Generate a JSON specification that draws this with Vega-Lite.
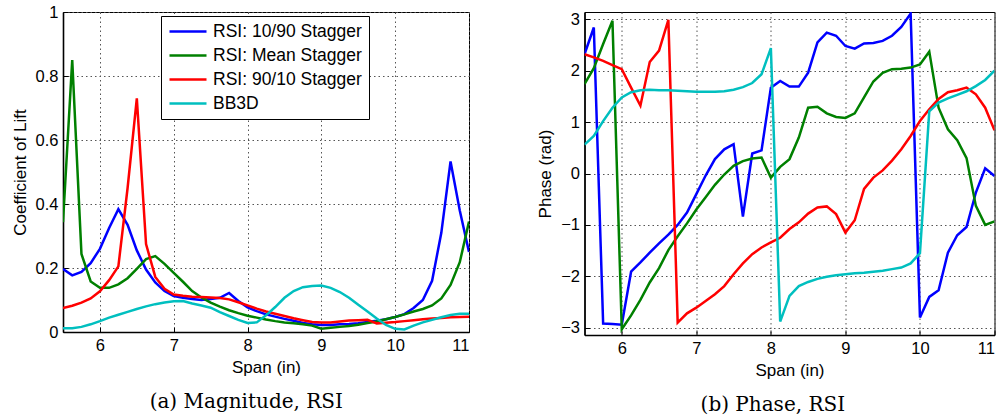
{
"$schema": "https://vega.github.io/schema/vega-lite/v6.json",
"padding": {"left": 10, "top": 3, "right": 0, "bottom": 2},
"background": "white",
"datasets": {"d": [
{"series":"RSI: 10/90 Stagger","span":5.5,"cl":0.197,"phase":2.32},
{"series":"RSI: 10/90 Stagger","span":5.625,"cl":0.177,"phase":2.84},
{"series":"RSI: 10/90 Stagger","span":5.75,"cl":0.188,"phase":-2.92},
{"series":"RSI: 10/90 Stagger","span":5.875,"cl":0.215,"phase":-2.93},
{"series":"RSI: 10/90 Stagger","span":6.0,"cl":0.26,"phase":-2.94},
{"series":"RSI: 10/90 Stagger","span":6.125,"cl":0.325,"phase":-1.91},
{"series":"RSI: 10/90 Stagger","span":6.25,"cl":0.384,"phase":-1.73},
{"series":"RSI: 10/90 Stagger","span":6.375,"cl":0.335,"phase":-1.54},
{"series":"RSI: 10/90 Stagger","span":6.5,"cl":0.255,"phase":-1.36},
{"series":"RSI: 10/90 Stagger","span":6.625,"cl":0.195,"phase":-1.19},
{"series":"RSI: 10/90 Stagger","span":6.75,"cl":0.155,"phase":-1.0},
{"series":"RSI: 10/90 Stagger","span":6.875,"cl":0.128,"phase":-0.76},
{"series":"RSI: 10/90 Stagger","span":7.0,"cl":0.112,"phase":-0.40},
{"series":"RSI: 10/90 Stagger","span":7.125,"cl":0.107,"phase":-0.04},
{"series":"RSI: 10/90 Stagger","span":7.25,"cl":0.103,"phase":0.28},
{"series":"RSI: 10/90 Stagger","span":7.375,"cl":0.1,"phase":0.47},
{"series":"RSI: 10/90 Stagger","span":7.5,"cl":0.103,"phase":0.57},
{"series":"RSI: 10/90 Stagger","span":7.625,"cl":0.107,"phase":-0.84},
{"series":"RSI: 10/90 Stagger","span":7.75,"cl":0.122,"phase":0.39},
{"series":"RSI: 10/90 Stagger","span":7.875,"cl":0.097,"phase":0.45},
{"series":"RSI: 10/90 Stagger","span":8.0,"cl":0.077,"phase":1.67},
{"series":"RSI: 10/90 Stagger","span":8.125,"cl":0.065,"phase":1.80},
{"series":"RSI: 10/90 Stagger","span":8.25,"cl":0.055,"phase":1.69},
{"series":"RSI: 10/90 Stagger","span":8.375,"cl":0.048,"phase":1.69},
{"series":"RSI: 10/90 Stagger","span":8.5,"cl":0.041,"phase":1.96},
{"series":"RSI: 10/90 Stagger","span":8.625,"cl":0.035,"phase":2.55},
{"series":"RSI: 10/90 Stagger","span":8.75,"cl":0.028,"phase":2.74},
{"series":"RSI: 10/90 Stagger","span":8.875,"cl":0.024,"phase":2.68},
{"series":"RSI: 10/90 Stagger","span":9.0,"cl":0.022,"phase":2.48},
{"series":"RSI: 10/90 Stagger","span":9.125,"cl":0.022,"phase":2.43},
{"series":"RSI: 10/90 Stagger","span":9.25,"cl":0.024,"phase":2.53},
{"series":"RSI: 10/90 Stagger","span":9.375,"cl":0.025,"phase":2.54},
{"series":"RSI: 10/90 Stagger","span":9.5,"cl":0.027,"phase":2.58},
{"series":"RSI: 10/90 Stagger","span":9.625,"cl":0.031,"phase":2.68},
{"series":"RSI: 10/90 Stagger","span":9.75,"cl":0.035,"phase":2.85},
{"series":"RSI: 10/90 Stagger","span":9.875,"cl":0.04,"phase":3.11},
{"series":"RSI: 10/90 Stagger","span":10.0,"cl":0.047,"phase":-2.80},
{"series":"RSI: 10/90 Stagger","span":10.125,"cl":0.056,"phase":-2.40},
{"series":"RSI: 10/90 Stagger","span":10.25,"cl":0.075,"phase":-2.27},
{"series":"RSI: 10/90 Stagger","span":10.375,"cl":0.1,"phase":-1.54},
{"series":"RSI: 10/90 Stagger","span":10.5,"cl":0.16,"phase":-1.2},
{"series":"RSI: 10/90 Stagger","span":10.625,"cl":0.31,"phase":-1.04},
{"series":"RSI: 10/90 Stagger","span":10.75,"cl":0.533,"phase":-0.37},
{"series":"RSI: 10/90 Stagger","span":10.875,"cl":0.38,"phase":0.10},
{"series":"RSI: 10/90 Stagger","span":11.0,"cl":0.25,"phase":-0.05},
{"series":"RSI: Mean Stagger","span":5.5,"cl":0.343,"phase":1.74},
{"series":"RSI: Mean Stagger","span":5.625,"cl":0.85,"phase":2.05},
{"series":"RSI: Mean Stagger","span":5.75,"cl":0.244,"phase":2.52},
{"series":"RSI: Mean Stagger","span":5.875,"cl":0.158,"phase":2.97},
{"series":"RSI: Mean Stagger","span":6.0,"cl":0.138,"phase":-3.03},
{"series":"RSI: Mean Stagger","span":6.125,"cl":0.138,"phase":-2.76},
{"series":"RSI: Mean Stagger","span":6.25,"cl":0.149,"phase":-2.46},
{"series":"RSI: Mean Stagger","span":6.375,"cl":0.168,"phase":-2.12},
{"series":"RSI: Mean Stagger","span":6.5,"cl":0.197,"phase":-1.84},
{"series":"RSI: Mean Stagger","span":6.625,"cl":0.228,"phase":-1.49},
{"series":"RSI: Mean Stagger","span":6.75,"cl":0.237,"phase":-1.22},
{"series":"RSI: Mean Stagger","span":6.875,"cl":0.213,"phase":-0.97},
{"series":"RSI: Mean Stagger","span":7.0,"cl":0.185,"phase":-0.70},
{"series":"RSI: Mean Stagger","span":7.125,"cl":0.157,"phase":-0.46},
{"series":"RSI: Mean Stagger","span":7.25,"cl":0.128,"phase":-0.22},
{"series":"RSI: Mean Stagger","span":7.375,"cl":0.108,"phase":-0.02},
{"series":"RSI: Mean Stagger","span":7.5,"cl":0.092,"phase":0.15},
{"series":"RSI: Mean Stagger","span":7.625,"cl":0.079,"phase":0.24},
{"series":"RSI: Mean Stagger","span":7.75,"cl":0.068,"phase":0.29},
{"series":"RSI: Mean Stagger","span":7.875,"cl":0.059,"phase":0.31},
{"series":"RSI: Mean Stagger","span":8.0,"cl":0.051,"phase":-0.08},
{"series":"RSI: Mean Stagger","span":8.125,"cl":0.045,"phase":0.13},
{"series":"RSI: Mean Stagger","span":8.25,"cl":0.039,"phase":0.28},
{"series":"RSI: Mean Stagger","span":8.375,"cl":0.034,"phase":0.70},
{"series":"RSI: Mean Stagger","span":8.5,"cl":0.03,"phase":1.28},
{"series":"RSI: Mean Stagger","span":8.625,"cl":0.027,"phase":1.30},
{"series":"RSI: Mean Stagger","span":8.75,"cl":0.024,"phase":1.17},
{"series":"RSI: Mean Stagger","span":8.875,"cl":0.02,"phase":1.10},
{"series":"RSI: Mean Stagger","span":9.0,"cl":0.01,"phase":1.08},
{"series":"RSI: Mean Stagger","span":9.125,"cl":0.013,"phase":1.17},
{"series":"RSI: Mean Stagger","span":9.25,"cl":0.016,"phase":1.48},
{"series":"RSI: Mean Stagger","span":9.375,"cl":0.019,"phase":1.79},
{"series":"RSI: Mean Stagger","span":9.5,"cl":0.023,"phase":1.96},
{"series":"RSI: Mean Stagger","span":9.625,"cl":0.028,"phase":2.03},
{"series":"RSI: Mean Stagger","span":9.75,"cl":0.033,"phase":2.04},
{"series":"RSI: Mean Stagger","span":9.875,"cl":0.04,"phase":2.06},
{"series":"RSI: Mean Stagger","span":10.0,"cl":0.047,"phase":2.12},
{"series":"RSI: Mean Stagger","span":10.125,"cl":0.055,"phase":2.37},
{"series":"RSI: Mean Stagger","span":10.25,"cl":0.064,"phase":1.28},
{"series":"RSI: Mean Stagger","span":10.375,"cl":0.072,"phase":0.86},
{"series":"RSI: Mean Stagger","span":10.5,"cl":0.083,"phase":0.65},
{"series":"RSI: Mean Stagger","span":10.625,"cl":0.105,"phase":0.30},
{"series":"RSI: Mean Stagger","span":10.75,"cl":0.147,"phase":-0.63},
{"series":"RSI: Mean Stagger","span":10.875,"cl":0.218,"phase":-1.0},
{"series":"RSI: Mean Stagger","span":11.0,"cl":0.345,"phase":-0.93},
{"series":"RSI: 90/10 Stagger","span":5.5,"cl":0.075,"phase":2.32},
{"series":"RSI: 90/10 Stagger","span":5.625,"cl":0.082,"phase":2.26},
{"series":"RSI: 90/10 Stagger","span":5.75,"cl":0.092,"phase":2.19},
{"series":"RSI: 90/10 Stagger","span":5.875,"cl":0.105,"phase":2.11},
{"series":"RSI: 90/10 Stagger","span":6.0,"cl":0.127,"phase":2.03},
{"series":"RSI: 90/10 Stagger","span":6.125,"cl":0.162,"phase":1.67},
{"series":"RSI: 90/10 Stagger","span":6.25,"cl":0.205,"phase":1.32},
{"series":"RSI: 90/10 Stagger","span":6.375,"cl":0.45,"phase":2.17},
{"series":"RSI: 90/10 Stagger","span":6.5,"cl":0.73,"phase":2.39},
{"series":"RSI: 90/10 Stagger","span":6.625,"cl":0.275,"phase":2.99},
{"series":"RSI: 90/10 Stagger","span":6.75,"cl":0.172,"phase":-2.90},
{"series":"RSI: 90/10 Stagger","span":6.875,"cl":0.135,"phase":-2.72},
{"series":"RSI: 90/10 Stagger","span":7.0,"cl":0.117,"phase":-2.61},
{"series":"RSI: 90/10 Stagger","span":7.125,"cl":0.113,"phase":-2.48},
{"series":"RSI: 90/10 Stagger","span":7.25,"cl":0.11,"phase":-2.35},
{"series":"RSI: 90/10 Stagger","span":7.375,"cl":0.109,"phase":-2.19},
{"series":"RSI: 90/10 Stagger","span":7.5,"cl":0.108,"phase":-1.96},
{"series":"RSI: 90/10 Stagger","span":7.625,"cl":0.106,"phase":-1.75},
{"series":"RSI: 90/10 Stagger","span":7.75,"cl":0.102,"phase":-1.57},
{"series":"RSI: 90/10 Stagger","span":7.875,"cl":0.093,"phase":-1.44},
{"series":"RSI: 90/10 Stagger","span":8.0,"cl":0.083,"phase":-1.34},
{"series":"RSI: 90/10 Stagger","span":8.125,"cl":0.073,"phase":-1.25},
{"series":"RSI: 90/10 Stagger","span":8.25,"cl":0.064,"phase":-1.08},
{"series":"RSI: 90/10 Stagger","span":8.375,"cl":0.057,"phase":-0.95},
{"series":"RSI: 90/10 Stagger","span":8.5,"cl":0.05,"phase":-0.78},
{"series":"RSI: 90/10 Stagger","span":8.625,"cl":0.043,"phase":-0.66},
{"series":"RSI: 90/10 Stagger","span":8.75,"cl":0.037,"phase":-0.64},
{"series":"RSI: 90/10 Stagger","span":8.875,"cl":0.031,"phase":-0.79},
{"series":"RSI: 90/10 Stagger","span":9.0,"cl":0.03,"phase":-1.15},
{"series":"RSI: 90/10 Stagger","span":9.125,"cl":0.03,"phase":-0.91},
{"series":"RSI: 90/10 Stagger","span":9.25,"cl":0.033,"phase":-0.30},
{"series":"RSI: 90/10 Stagger","span":9.375,"cl":0.036,"phase":-0.08},
{"series":"RSI: 90/10 Stagger","span":9.5,"cl":0.037,"phase":0.06},
{"series":"RSI: 90/10 Stagger","span":9.625,"cl":0.038,"phase":0.25},
{"series":"RSI: 90/10 Stagger","span":9.75,"cl":0.027,"phase":0.47},
{"series":"RSI: 90/10 Stagger","span":9.875,"cl":0.029,"phase":0.73},
{"series":"RSI: 90/10 Stagger","span":10.0,"cl":0.031,"phase":1.02},
{"series":"RSI: 90/10 Stagger","span":10.125,"cl":0.034,"phase":1.25},
{"series":"RSI: 90/10 Stagger","span":10.25,"cl":0.037,"phase":1.45},
{"series":"RSI: 90/10 Stagger","span":10.375,"cl":0.04,"phase":1.58},
{"series":"RSI: 90/10 Stagger","span":10.5,"cl":0.042,"phase":1.62},
{"series":"RSI: 90/10 Stagger","span":10.625,"cl":0.044,"phase":1.67},
{"series":"RSI: 90/10 Stagger","span":10.75,"cl":0.046,"phase":1.54},
{"series":"RSI: 90/10 Stagger","span":10.875,"cl":0.047,"phase":1.28},
{"series":"RSI: 90/10 Stagger","span":11.0,"cl":0.048,"phase":0.84},
{"series":"BB3D","span":5.5,"cl":0.012,"phase":0.56},
{"series":"BB3D","span":5.625,"cl":0.012,"phase":0.73},
{"series":"BB3D","span":5.75,"cl":0.016,"phase":1.02},
{"series":"BB3D","span":5.875,"cl":0.024,"phase":1.28},
{"series":"BB3D","span":6.0,"cl":0.034,"phase":1.48},
{"series":"BB3D","span":6.125,"cl":0.045,"phase":1.58},
{"series":"BB3D","span":6.25,"cl":0.054,"phase":1.62},
{"series":"BB3D","span":6.375,"cl":0.063,"phase":1.63},
{"series":"BB3D","span":6.5,"cl":0.072,"phase":1.62},
{"series":"BB3D","span":6.625,"cl":0.08,"phase":1.62},
{"series":"BB3D","span":6.75,"cl":0.087,"phase":1.61},
{"series":"BB3D","span":6.875,"cl":0.092,"phase":1.60},
{"series":"BB3D","span":7.0,"cl":0.096,"phase":1.59},
{"series":"BB3D","span":7.125,"cl":0.097,"phase":1.59},
{"series":"BB3D","span":7.25,"cl":0.089,"phase":1.59},
{"series":"BB3D","span":7.375,"cl":0.083,"phase":1.60},
{"series":"BB3D","span":7.5,"cl":0.076,"phase":1.63},
{"series":"BB3D","span":7.625,"cl":0.062,"phase":1.68},
{"series":"BB3D","span":7.75,"cl":0.05,"phase":1.76},
{"series":"BB3D","span":7.875,"cl":0.038,"phase":1.93},
{"series":"BB3D","span":8.0,"cl":0.028,"phase":2.44},
{"series":"BB3D","span":8.125,"cl":0.03,"phase":-2.88},
{"series":"BB3D","span":8.25,"cl":0.052,"phase":-2.38},
{"series":"BB3D","span":8.375,"cl":0.078,"phase":-2.19},
{"series":"BB3D","span":8.5,"cl":0.107,"phase":-2.11},
{"series":"BB3D","span":8.625,"cl":0.128,"phase":-2.05},
{"series":"BB3D","span":8.75,"cl":0.14,"phase":-2.01},
{"series":"BB3D","span":8.875,"cl":0.144,"phase":-1.98},
{"series":"BB3D","span":9.0,"cl":0.145,"phase":-1.96},
{"series":"BB3D","span":9.125,"cl":0.138,"phase":-1.94},
{"series":"BB3D","span":9.25,"cl":0.125,"phase":-1.93},
{"series":"BB3D","span":9.375,"cl":0.107,"phase":-1.91},
{"series":"BB3D","span":9.5,"cl":0.085,"phase":-1.89},
{"series":"BB3D","span":9.625,"cl":0.064,"phase":-1.86},
{"series":"BB3D","span":9.75,"cl":0.042,"phase":-1.83},
{"series":"BB3D","span":9.875,"cl":0.022,"phase":-1.75},
{"series":"BB3D","span":10.0,"cl":0.01,"phase":-1.55},
{"series":"BB3D","span":10.125,"cl":0.008,"phase":1.21},
{"series":"BB3D","span":10.25,"cl":0.02,"phase":1.38},
{"series":"BB3D","span":10.375,"cl":0.03,"phase":1.46},
{"series":"BB3D","span":10.5,"cl":0.038,"phase":1.53},
{"series":"BB3D","span":10.625,"cl":0.046,"phase":1.60},
{"series":"BB3D","span":10.75,"cl":0.053,"phase":1.70},
{"series":"BB3D","span":10.875,"cl":0.057,"phase":1.82},
{"series":"BB3D","span":11.0,"cl":0.057,"phase":2.0}
]},
"data": {"name": "d"},
"config": {
  "view": {"stroke": "black", "strokeWidth": 1},
  "axis": {
    "labelFont": "Liberation Sans", "labelFontSize": 16.5, "labelColor": "black",
    "titleFont": "Liberation Sans", "titleFontSize": 17, "titleFontWeight": "normal", "titleColor": "black",
    "gridColor": "#555555", "gridDash": [1.5, 3], "gridWidth": 1, "gridOpacity": 1,
    "domainColor": "black", "domainWidth": 1.6,
    "ticks": true, "tickSize": -5, "tickColor": "black", "tickWidth": 1,
    "labelPadding": 10, "titlePadding": 6
  },
  "title": {"font": "DejaVu Serif", "fontSize": 20, "fontWeight": "normal", "color": "black"},
  "concat": {"spacing": 65.5}
},
"hconcat": [
  {
    "width": 406, "height": 320,
    "title": {"text": "(a) Magnitude, RSI", "orient": "bottom", "frame": "bounds", "anchor": "middle", "offset": 16, "dx": 6},
    "mark": {"type": "line", "strokeWidth": 2.5, "clip": true},
    "encoding": {
      "x": {"field": "span", "type": "quantitative", "scale": {"domain": [5.5, 11], "nice": false, "zero": false},
            "axis": {"values": [6, 7, 8, 9, 10, 11], "title": "Span (in)"}},
      "y": {"field": "cl", "type": "quantitative", "scale": {"domain": [0, 1], "nice": false},
            "axis": {"values": [0, 0.2, 0.4, 0.6, 0.8, 1], "format": "~g", "title": "Coefficient of Lift"}},
      "color": {"field": "series", "type": "nominal",
                "scale": {"domain": ["RSI: 10/90 Stagger", "RSI: Mean Stagger", "RSI: 90/10 Stagger", "BB3D"],
                          "range": ["#0000ff", "#008000", "#ff0000", "#00bfbf"]},
                "legend": {"orient": "none", "legendX": 98, "legendY": 4, "title": null,
                           "symbolType": "stroke", "symbolSize": 1369, "symbolStrokeWidth": 2.5,
                           "labelFont": "Liberation Sans", "labelFontSize": 17.5, "labelColor": "black",
                           "labelOffset": 5, "labelLimit": 300,
                           "strokeColor": "black", "fillColor": "white", "padding": 7,
                           "rowPadding": 6, "clipHeight": 17}}
    }
  },
  {
    "width": 410, "height": 323,
    "title": {"text": "(b) Phase, RSI", "orient": "bottom", "frame": "bounds", "anchor": "middle", "offset": 16, "dx": 7},
    "mark": {"type": "line", "strokeWidth": 2.5, "clip": true},
    "encoding": {
      "x": {"field": "span", "type": "quantitative", "scale": {"domain": [5.5, 11], "nice": false, "zero": false},
            "axis": {"values": [6, 7, 8, 9, 10, 11], "title": "Span (in)"}},
      "y": {"field": "phase", "type": "quantitative", "scale": {"domain": [-3.14159, 3.14159], "nice": false, "zero": false},
            "axis": {"values": [-3, -2, -1, 0, 1, 2, 3], "title": "Phase (rad)"}},
      "color": {"field": "series", "type": "nominal",
                "scale": {"domain": ["RSI: 10/90 Stagger", "RSI: Mean Stagger", "RSI: 90/10 Stagger", "BB3D"],
                          "range": ["#0000ff", "#008000", "#ff0000", "#00bfbf"]},
                "legend": null}
    }
  }
],
"resolve": {"scale": {"color": "independent"}}
}
